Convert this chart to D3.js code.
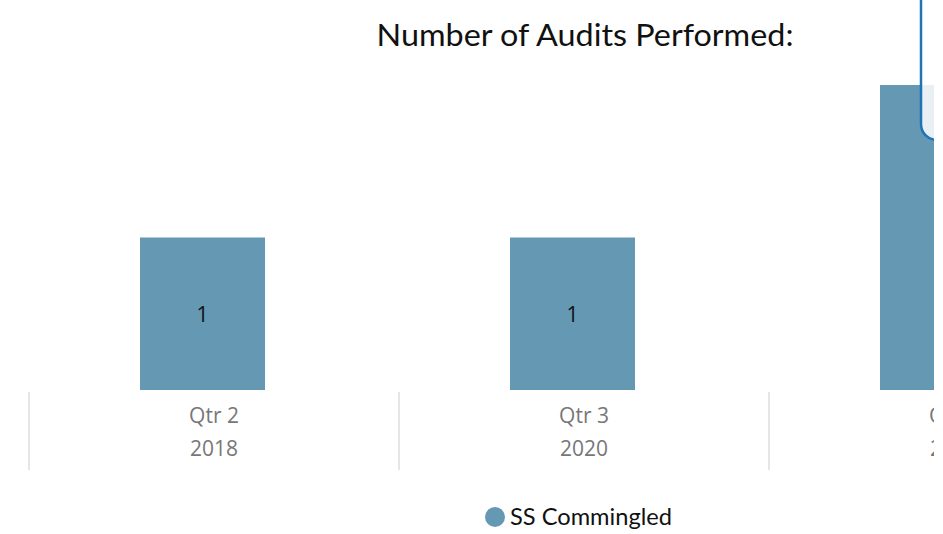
<!DOCTYPE html>
<html>
<head>
    <script src="https://cdn.jsdelivr.net/npm/d3@7"></script>
    <style>
        body { margin: 0; background: #fff; }
        #my-svg { width: 943px; height: 534px; display: block; }
    </style>
</head>
<body>

<svg id="my-svg"></svg>

<script>
    // data
    const quarters = ["Qtr 2", "Qtr 3", "Qtr 1"];
    const years = ["2018", "2020", "2021"];
    const audits = [1, 1, 2];
    const seriesName = "SS Commingled";
    const title = "Number of Audits Performed:";

    const width = 943, height = 534;
    const plotRight = 934;   // visual gets clipped here
    const barColor = "#6598b3";

    const svg = d3.select("#my-svg");

    svg.append("defs").append("clipPath").attr("id", "clip")
        .append("rect").attr("x", 0).attr("y", 0).attr("width", plotRight).attr("height", height);

    const g = svg.append("g").attr("clip-path", "url(#clip)");

    const cats = quarters.map((q, i) => q + " " + years[i]);

    const x = d3.scaleBand().domain(cats).range([29, 29 + 370 * cats.length]);
    const y = d3.scaleLinear().domain([0, 2]).range([390, 85]);

    const bw = x.bandwidth();
    const barW = bw * 125 / 370;
    const barOff = bw / 2 - 11.5 - barW / 2;

    // title
    g.append("text")
        .attr("x", 585).attr("y", 46)
        .attr("text-anchor", "middle")
        .attr("textLength", 417)
        .attr("lengthAdjust", "spacingAndGlyphs")
        .style("font-family", "Lato, 'Open Sans', sans-serif")
        .style("font-size", "31px")
        .attr("fill", "#111")
        .text(title);

    // bars
    g.append("g").selectAll("rect")
        .data(audits)
        .join("rect")
        .attr("x", (d, i) => x(cats[i]) + barOff)
        .attr("y", d => y(d))
        .attr("width", barW)
        .attr("height", d => y(0) - y(d))
        .attr("fill", barColor);

    // data labels
    g.append("g").selectAll("text")
        .data(audits)
        .join("text")
        .attr("x", (d, i) => x(cats[i]) + barOff + barW / 2)
        .attr("y", d => (y(d) + y(0)) / 2 + 8)
        .attr("text-anchor", "middle")
        .style("font-family", "'Open Sans', sans-serif")
        .style("font-size", "21px")
        .attr("fill", "#111")
        .text(d => d);

    // category separators
    g.append("g").selectAll("line")
        .data(cats)
        .join("line")
        .attr("x1", d => x(d)).attr("x2", d => x(d))
        .attr("y1", 392).attr("y2", 470)
        .attr("stroke", "#e6e6e6")
        .attr("stroke-width", 2);

    // axis labels (two lines)
    const lab = g.append("g").selectAll("text")
        .data(cats)
        .join("text")
        .attr("text-anchor", "middle")
        .style("font-family", "'Open Sans', sans-serif")
        .style("font-size", "21px")
        .attr("fill", "#777");
    lab.append("tspan")
        .attr("x", d => x(d) + bw / 2).attr("y", 423)
        .text((d, i) => quarters[i]);
    lab.append("tspan")
        .attr("x", d => x(d) + bw / 2).attr("y", 456)
        .text((d, i) => years[i]);

    // legend
    const leg = g.append("g");
    leg.append("circle").attr("cx", 495).attr("cy", 517).attr("r", 10).attr("fill", barColor);
    leg.append("text")
        .attr("x", 510).attr("y", 525)
        .attr("textLength", 162)
        .attr("lengthAdjust", "spacingAndGlyphs")
        .style("font-family", "Lato, 'Open Sans', sans-serif")
        .style("font-size", "23.5px")
        .attr("fill", "#111")
        .text(seriesName);

    // tooltip box cut off at the top right
    g.append("rect")
        .attr("x", 921).attr("y", -30)
        .attr("width", 120).attr("height", 170)
        .attr("rx", 16)
        .attr("fill", "#fff").attr("fill-opacity", 0.85)
        .attr("stroke", "#1f74b7").attr("stroke-width", 2.5);
</script>
</body>
</html>
